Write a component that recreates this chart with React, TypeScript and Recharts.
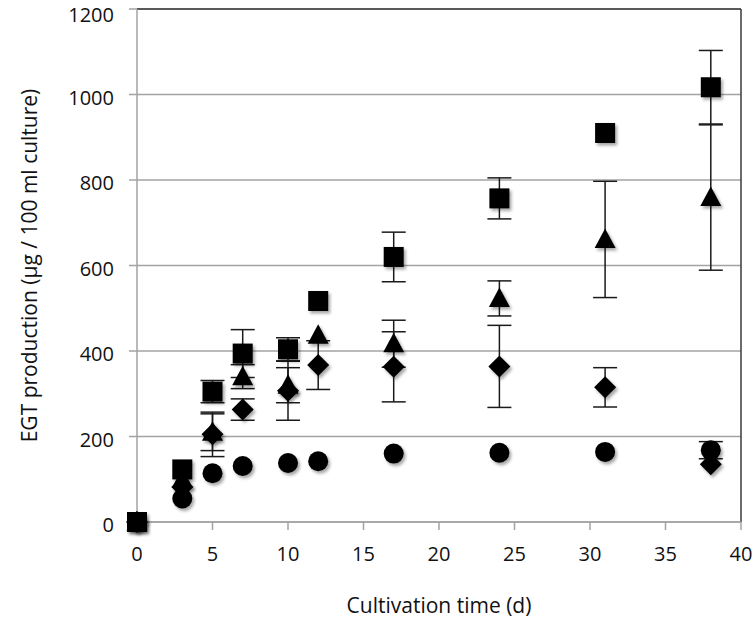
import * as React from 'react'
import {
  ScatterChart,
  Scatter,
  XAxis,
  YAxis,
  CartesianGrid,
  ErrorBar,
  ReferenceLine,
} from 'recharts'

// cultivation days
const days = [0, 3, 5, 7, 10, 12, 17, 24, 31, 38]

// EGT production per series (µg / 100 ml culture) and their error values
const squareVals = [0, 123, 305, 394, 404, 517, 620, 757, 910, 1017]
const squareErr = [0, 0, 26, 56, 27, 0, 58, 48, 0, 86]

const triangleVals = [0, 100, 210, 340, 320, 437, 417, 523, 661, 759]
const triangleErr = [0, 0, 43, 28, 41, 0, 55, 41, 136, 170]

const diamondVals = [0, 82, 205, 263, 307, 367, 363, 364, 315, 135]
const diamondErr = [0, 0, 52, 25, 69, 57, 82, 96, 46, 0]

const circleVals = [0, 55, 114, 131, 138, 142, 160, 162, 164, 168]
const circleErr = [0, 0, 0, 0, 0, 0, 0, 0, 0, 20]

const xTicks = [0, 5, 10, 15, 20, 25, 30, 35, 40]
const yTicks = [0, 200, 400, 600, 800, 1000, 1200]

const toRows = (vals: number[], errs: number[]) =>
  days.map((x, i) => ({ x, y: vals[i], err: errs[i] }))

const squareData = toRows(squareVals, squareErr)
const triangleData = toRows(triangleVals, triangleErr)
const diamondData = toRows(diamondVals, diamondErr)
const circleData = toRows(circleVals, circleErr)

const FONT = '"Open Sans", "DejaVu Sans", sans-serif'
const AXIS_GRAY = '#a3a3a3'
const INK = '#000'

function SquareShape(p: any) {
  return <rect x={p.cx - 10} y={p.cy - 10} width={20} height={20} fill={INK} filter="url(#mk-shadow)" />
}

function TriangleShape(p: any) {
  const { cx, cy } = p
  return (
    <path
      d={`M${cx},${cy - 11} L${cx + 10.5},${cy + 8.5} L${cx - 10.5},${cy + 8.5} Z`}
      fill={INK}
      filter="url(#mk-shadow)"
    />
  )
}

function DiamondShape(p: any) {
  const { cx, cy } = p
  return (
    <path
      d={`M${cx},${cy - 11} L${cx + 11},${cy} L${cx},${cy + 11} L${cx - 11},${cy} Z`}
      fill={INK}
      filter="url(#mk-shadow)"
    />
  )
}

function CircleShape(p: any) {
  return <circle cx={p.cx} cy={p.cy} r={10} fill={INK} filter="url(#mk-shadow)" />
}

const errProps = { dataKey: 'err', direction: 'y' as const, width: 12, stroke: '#1a1a1a', strokeWidth: 1.5 }

export default function App() {
  return (
    <div style={{ position: 'absolute', left: 0, top: 0, width: 756, height: 620, background: '#fff' }}>
      <ScatterChart
        width={756}
        height={620}
        margin={{ top: 9, right: 15, bottom: 0, left: 0 }}
        style={{ fontFamily: FONT }}
      >
        <defs>
          <filter id="mk-shadow" x="-60%" y="-60%" width="220%" height="220%">
            <feDropShadow dx="2" dy="2.5" stdDeviation="1.6" floodColor="#000" floodOpacity="0.35" />
          </filter>
        </defs>
        <CartesianGrid vertical={false} stroke={AXIS_GRAY} strokeWidth={1.5} />
        <XAxis
          type="number"
          dataKey="x"
          domain={[0, 40]}
          ticks={xTicks}
          height={98}
          axisLine={{ stroke: AXIS_GRAY, strokeWidth: 1.5 }}
          tickLine={{ stroke: AXIS_GRAY, strokeWidth: 1.5 }}
          tickSize={8}
          tickMargin={17}
          tick={{ fontSize: 20, fill: '#111', fontFamily: FONT }}
          label={{
            value: 'Cultivation time (d)',
            position: 'insideBottom',
            offset: 7,
            style: { fontSize: 21, fill: '#111', fontFamily: FONT },
          }}
        />
        <YAxis
          type="number"
          dataKey="y"
          domain={[0, 1200]}
          ticks={yTicks}
          width={137}
          axisLine={{ stroke: AXIS_GRAY, strokeWidth: 1.5 }}
          tickLine={{ stroke: AXIS_GRAY, strokeWidth: 1.5 }}
          tickSize={8}
          tickMargin={15}
          tick={{ fontSize: 20, fill: '#111', fontFamily: FONT, dy: 3 }}
          label={{
            value: 'EGT production (µg / 100 ml culture)',
            angle: -90,
            position: 'insideLeft',
            offset: 30,
            style: { fontSize: 21, fill: '#111', fontFamily: FONT, textAnchor: 'middle' },
          }}
        />
        <ReferenceLine y={1200} stroke="#3a3a3a" strokeWidth={1.5} />
        <ReferenceLine x={40} stroke="#3a3a3a" strokeWidth={1.5} />
        <Scatter data={triangleData} shape={TriangleShape} isAnimationActive={false}>
          <ErrorBar {...errProps} />
        </Scatter>
        <Scatter data={diamondData} shape={DiamondShape} isAnimationActive={false}>
          <ErrorBar {...errProps} />
        </Scatter>
        <Scatter data={circleData} shape={CircleShape} isAnimationActive={false}>
          <ErrorBar {...errProps} />
        </Scatter>
        <Scatter data={squareData} shape={SquareShape} isAnimationActive={false}>
          <ErrorBar {...errProps} />
        </Scatter>
      </ScatterChart>
    </div>
  )
}
